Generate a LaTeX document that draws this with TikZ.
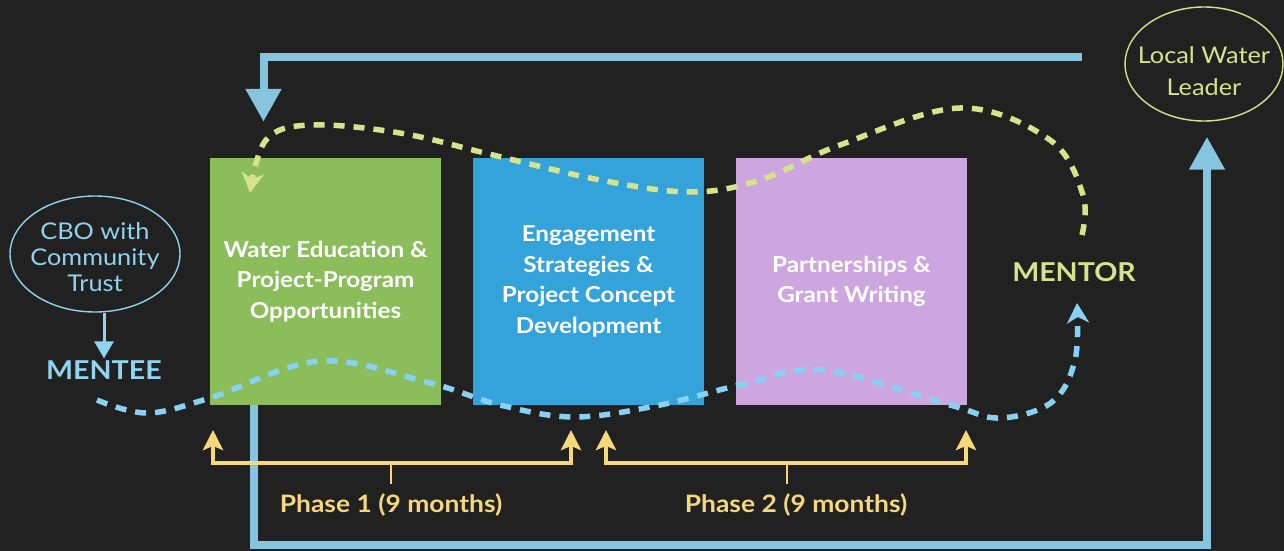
\documentclass[tikz,border=0pt]{standalone}
\usepackage{fontspec}
\setmainfont{Lato}[FakeStretch=1.1]
\usetikzlibrary{arrows.meta,shapes.geometric,positioning}

\definecolor{bgdark}{HTML}{212121}
\definecolor{edugreen}{HTML}{8BBD5B}
\definecolor{engblue}{HTML}{33A3DA}
\definecolor{grantpurple}{HTML}{CDA6E0}
\definecolor{fbblue}{HTML}{86C4E0}
\definecolor{dashblue}{HTML}{88D1F2}
\definecolor{mentorgreen}{HTML}{D6E38B}
\definecolor{phasegold}{HTML}{F5D87C}
\definecolor{cbocyan}{HTML}{8FD3EF}

\newcommand\ovalpad[1]{\rule{0pt}{#1}}

\tikzset{
  stagebox/.style={minimum width=231pt, minimum height=247pt, inner sep=0pt,
    text=white, align=center, font=\bfseries\fontsize{22}{30.5}\selectfont},
  roleoval/.style={ellipse, draw, line width=1.4pt, inner xsep=-14pt, inner ysep=-8pt,
    align=center, font=\fontsize{23}{26}\selectfont},
  rolename/.style={inner sep=2pt, font=\bfseries\fontsize{26}{30}\selectfont},
  fbline/.style={line width=8pt, draw=fbblue, -{Triangle[width=34pt,length=33pt]}},
  menteepath/.style={line width=5.5pt, draw=dashblue, dash pattern=on 11pt off 9pt,
    -{Stealth[width=22pt,length=20pt,inset=6pt]}},
  mentorpath/.style={line width=5.5pt, draw=mentorgreen, dash pattern=on 11pt off 9pt,
    -{Stealth[width=22pt,length=20pt,inset=6pt]}},
  phasebr/.style={line width=4pt, draw=phasegold,
    {Stealth[width=20pt,length=20pt,inset=4pt]}-{Stealth[width=20pt,length=20pt,inset=4pt]}},
  phasetick/.style={line width=2.5pt, draw=phasegold},
  phasename/.style={text=phasegold, font=\bfseries\fontsize{24}{26}\selectfont}
}

\begin{document}
\begin{tikzpicture}[x=1pt,y=-1pt]
	\useasboundingbox (0,0) rectangle (1284,551);
	\fill[bgdark] (0,0) rectangle (1284,551);

	% the three stages
	\node[stagebox, fill=edugreen] (edu) at (325.5,281.5) {Water Education \&\\Project-Program\\Opportunities};
	\node[stagebox, fill=engblue] (eng) at (588.5,281.5) {Engagement\\Strategies \&\\Project Concept\\Development};
	\node[stagebox, fill=grantpurple] (grant) at (851.5,281.5) {Partnerships \&\\Grant Writing};

	% mentee and mentor
	\node[roleoval, draw=cbocyan, text=cbocyan, minimum width=170pt, minimum height=116pt] (cbo) at (95,254) {\ovalpad{24pt}CBO with\\Community\\Trust};
	\node[rolename, text=cbocyan] (mentee) at (104,370) {MENTEE};
	\node[roleoval, draw=mentorgreen, text=mentorgreen, minimum width=158pt, minimum height=114pt, font=\fontsize{23}{32}\selectfont] (leader) at (1204,64) {\ovalpad{31pt}Local Water\\Leader};
	\node[rolename, text=mentorgreen] (mentor) at (1074,272) {MENTOR};

	\draw[line width=3pt, draw=cbocyan, -{Triangle[width=19pt,length=17pt]}] (mentee.north |- cbo.south) -- (mentee.north);

	% feedback loop
	\coordinate (fbtop) at (1082,57);
	\draw[fbline] ([xshift=-72pt]edu.south) |- (1207,545) -- ([xshift=3pt,yshift=-15pt]leader.south);
	\draw[fbline] (fbtop) -| ([xshift=-62pt,yshift=36pt]edu.north);

	% mentoring paths
	\coordinate (menteetail) at (97,400);
	\coordinate (menteehead) at (1077,303);
	\coordinate (mentortail) at (1082,235);
	\coordinate (mentorhead) at (250,193);
	\draw[menteepath] plot[smooth, tension=0.6] coordinates {(menteetail) (147,413) (210,398) (320,361) (430,383) (500,405) (575,417) (660,405) (740,385) (823,370) (950,405) (1000,418) (1052,402) (1075,360) (menteehead)};
	\draw[mentorpath] plot[smooth, tension=0.6] coordinates {(mentortail) (1083,195) (1050,140) (960,108) (840,145) (760,180) (690,192) (600,180) (493,155) (400,133) (310,125) (266,140) (mentorhead)};

	% phases
	\node[phasename] (phase1) at (391,505) {Phase 1 (9 months)};
	\node[phasename] (phase2) at (796,505) {Phase 2 (9 months)};
	\coordinate (p1left) at (213,430);
	\coordinate (p1right) at (571,430);
	\coordinate (p2left) at (606,430);
	\coordinate (p2right) at (966,430);
	\draw[phasebr] (p1left) -- ++(0,33) -| (p1right);
	\draw[phasebr] (p2left) -- ++(0,33) -| (p2right);
	\draw[phasetick] (phase1.north |- 0,463) -- (phase1.north |- 0,484);
	\draw[phasetick] (787,463) -- (787,484);
\end{tikzpicture}
\end{document}
